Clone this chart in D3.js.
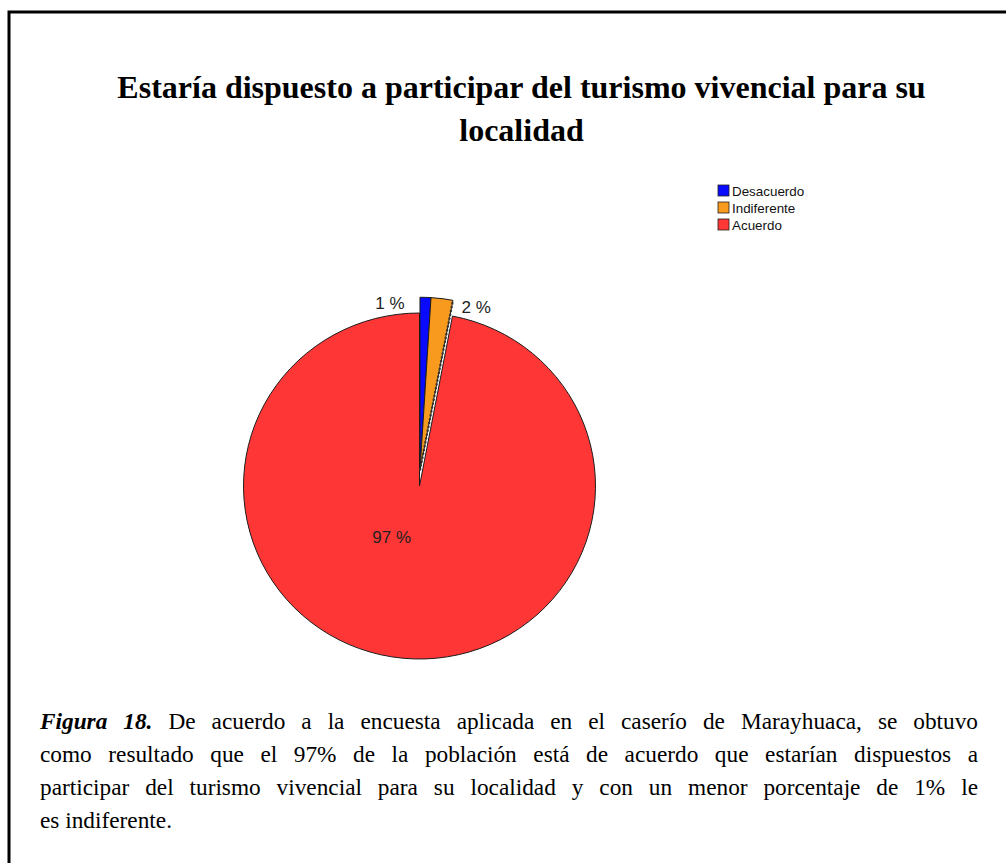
<!DOCTYPE html>
<html>
<head>
<meta charset="utf-8">
<script src="https://cdn.jsdelivr.net/npm/d3@7"></script>
<style>
    body { margin: 0; background: #fff; }
    #wrap { position: relative; width: 1006px; height: 863px; overflow: hidden; }
    #caption { position: absolute; left: 40px; top: 705px; width: 938px;
        font-family: 'Liberation Serif', 'Times New Roman', serif; font-size: 23.3px; line-height: 33px; color: #000; }
    #caption .line { text-align: justify; text-align-last: justify; white-space: nowrap; }
    #caption .line.last { text-align-last: left; }
</style>
</head>
<body>
<div id="wrap">
<svg id="chart" width="1006" height="863"></svg>
<div id="caption"></div>
</div>
<script>
var categories = ["Desacuerdo", "Indiferente", "Acuerdo"],
    values = [1, 2, 97],
    colors = ["#0a0aff", "#f89a1e", "#ff3636"],
    exploded = [true, true, false];

var title_lines = ["Estaría dispuesto a participar del turismo vivencial para su", "localidad"];
var caption_lead = "Figura 18.";
var caption_lines = [
    " De acuerdo a la encuesta aplicada en el caserío de Marayhuaca, se obtuvo",
    "como resultado que el 97% de la población está de acuerdo que estarían dispuestos a",
    "participar del turismo vivencial para su localidad y con un menor porcentaje de 1% le",
    "es indiferente."
];

function draw_frame(svg) {
    svg.append("rect").attr("x", 9).attr("y", 12).attr("width", 1020).attr("height", 880)
        .attr("fill", "none").attr("stroke", "#000").attr("stroke-width", 3);

    svg.append("g").selectAll("text")
        .data(title_lines)
        .enter().append("text")
        .attr("x", 521.5).attr("y", (d, i) => 98 + i * 43)
        .attr("text-anchor", "middle")
        .style("font-family", "'Liberation Serif', 'Times New Roman', serif")
        .style("font-weight", "bold").style("font-size", "32px")
        .text(d => d);
}

function draw_legend(svg) {
    var leg = svg.append("g").attr("transform", "translate(718,185)");
    var row = leg.selectAll("g").data(categories).enter().append("g")
        .attr("transform", (d, i) => "translate(0," + i * 17 + ")");
    row.append("rect").attr("width", 11).attr("height", 11)
        .attr("fill", (d, i) => colors[i]).attr("stroke", "#222").attr("stroke-width", 0.8);
    row.append("text").attr("x", 14).attr("y", 10.5)
        .style("font-family", "'Liberation Sans', Arial, sans-serif").style("font-size", "13.4px")
        .attr("fill", "#111")
        .text(d => d);
}

function draw_pie(svg) {
    var cx = 419.5, cy = 486, r = 176, ry = 173, explode = 16;

    var pie = d3.pie().sort(null).value(d => d)(values);
    var arc = d3.arc().innerRadius(0).outerRadius(r);

    var g = svg.append("g").attr("transform", "translate(" + [cx, cy] + ") scale(1," + (ry / r) + ")");

    // red first so that the exploded slices sit on top
    var order = [2, 0, 1];
    order.forEach(i => {
        var p = pie[i],
            off = exploded[i] ? [Math.sin(0.03) * explode, -explode] : [0, 0];
        var s = g.append("g").attr("transform", "translate(" + off + ")");
        s.append("path").attr("d", arc(p))
            .attr("fill", colors[i]).attr("stroke", "#1a1a1a").attr("stroke-width", 1)
            .attr("stroke-linejoin", "round");
        if (i == 1) {
            // dark edge on the exploded side
            var a = p.endAngle;
            s.append("line").attr("x1", 0).attr("y1", 0)
                .attr("x2", Math.sin(a) * r).attr("y2", -Math.cos(a) * r)
                .attr("stroke", "#333").attr("stroke-width", 2.2).attr("stroke-dasharray", "2,2");
        }
    });

    var lab = svg.append("g")
        .style("font-family", "'Liberation Sans', Arial, sans-serif").style("font-size", "17px")
        .attr("fill", "#222");
    var top = cy - (ry + explode);
    // small slices: label beside the exploded tip
    lab.append("text").attr("x", cx + Math.sin(pie[0].startAngle) * r - 15).attr("y", top + 12)
        .attr("text-anchor", "end").text(values[0] + " %");
    lab.append("text").attr("x", cx + Math.sin(pie[1].endAngle) * r + 9).attr("y", top + 16)
        .attr("text-anchor", "start").text(values[1] + " %");
    // big slice: label inside
    var inner = d3.arc().innerRadius(58).outerRadius(58).centroid(pie[2]);
    lab.append("text").attr("x", cx + inner[0] - 3).attr("y", cy + inner[1] * ry / r)
        .attr("text-anchor", "end").text(values[2] + " %");
}

function draw_caption() {
    var cap = d3.select("#caption");
    caption_lines.forEach((t, i) => {
        var line = cap.append("div").attr("class", "line" + (i == caption_lines.length - 1 ? " last" : ""));
        if (i == 0) {
            line.append("b").append("i").text(caption_lead);
        }
        line.append("span").text(t);
    });
}

var svg = d3.select("#chart");
draw_frame(svg);
draw_legend(svg);
draw_pie(svg);
draw_caption();
</script>
</body>
</html>
